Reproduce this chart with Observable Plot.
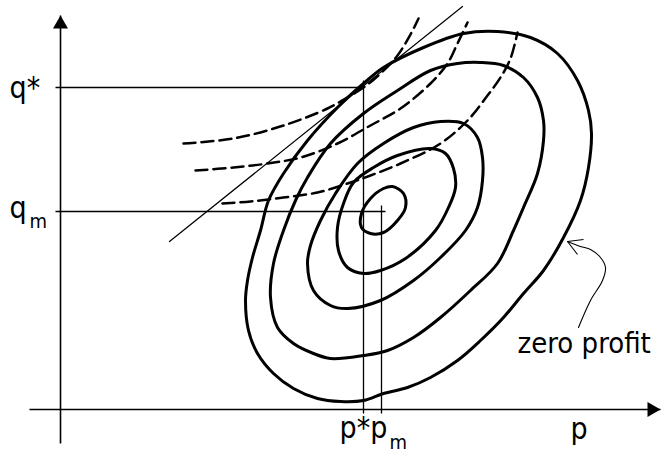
<!DOCTYPE html>
<html><head><meta charset="utf-8">
<script src="https://cdn.jsdelivr.net/npm/d3@7"></script>
<script src="https://cdn.jsdelivr.net/npm/@observablehq/plot@0.6"></script>
<style>body{margin:0;background:#fff}</style>
</head><body><div id="chart"></div>
<script>
// key values (p = price, q = quality)
const pStar = 6.06, pM = 6.42, qStar = 6.44, qM = 3.96;
const axisP = [-0.62, 12.0];
const axisQ = [-0.68, 7.88];

// iso-profit contours (innermost to zero profit)
const contour1 = [[6.64,4.46],[6.86,4.32],[6.90,4.04],[6.74,3.78],[6.46,3.54],[6.20,3.52],[6.02,3.64],[6.02,3.92],[6.20,4.22],[6.46,4.42]];
const contour2 = [[7.40,5.22],[7.70,5.12],[7.86,4.82],[7.90,4.44],[7.76,4.04],[7.50,3.58],[6.90,3.02],[6.40,2.78],[6.06,2.72],[5.74,2.84],[5.56,3.18],[5.54,3.64],[5.66,4.12],[5.86,4.54],[6.26,4.84],[6.74,5.08]];
const contour3 = [[7.60,5.76],[7.06,5.64],[6.46,5.32],[5.94,4.92],[5.50,4.32],[5.20,3.78],[5.00,3.28],[4.94,2.92],[5.06,2.38],[5.40,2.08],[5.74,2.02],[6.40,2.18],[7.06,2.58],[7.60,3.04],[8.10,3.58],[8.34,4.04],[8.44,4.58],[8.44,5.04],[8.34,5.44],[8.06,5.72]];
const contour4 = [[7.94,6.92],[7.40,6.78],[6.74,6.38],[6.06,5.92],[5.40,5.32],[4.94,4.64],[4.70,4.18],[4.46,3.58],[4.26,2.92],[4.20,2.24],[4.34,1.64],[4.66,1.32],[5.06,1.12],[5.40,1.02],[6.06,1.08],[6.54,1.18],[7.06,1.44],[7.60,1.84],[8.20,2.38],[8.74,2.92],[9.06,3.58],[9.26,4.04],[9.54,4.72],[9.66,5.38],[9.66,5.78],[9.54,6.24],[9.26,6.64],[8.86,6.88],[8.40,6.94]];
const contour5 = [[8.74,7.56],[8.06,7.52],[7.26,7.24],[6.46,6.84],[6.06,6.52],[5.54,6.04],[4.94,5.38],[4.46,4.72],[4.16,4.18],[4.00,3.58],[3.84,3.04],[3.74,2.58],[3.70,2.18],[3.76,1.58],[3.94,1.12],[4.26,0.72],[4.66,0.42],[5.14,0.22],[5.60,0.16],[6.06,0.18],[6.46,0.32],[6.94,0.44],[7.40,0.64],[7.94,0.98],[8.40,1.38],[8.86,1.84],[9.26,2.32],[9.66,2.78],[10.06,3.44],[10.40,4.18],[10.56,4.84],[10.62,5.52],[10.56,5.98],[10.34,6.58],[9.94,7.12],[9.40,7.44]];

// dashed indifference curves
const indiff1 = [[2.46,5.32],[3.46,5.42],[4.46,5.68],[5.34,6.02],[5.70,6.22],[6.06,6.44],[6.40,6.72],[6.74,7.08],[7.00,7.50],[7.16,7.82]];
const indiff2 = [[2.70,4.78],[3.46,4.84],[4.14,4.92],[4.80,5.04],[5.54,5.32],[6.20,5.68],[6.80,6.02],[7.40,6.52],[7.74,6.92],[7.94,7.32],[8.14,7.74]];
const indiff3 = [[3.24,4.12],[3.80,4.16],[4.46,4.24],[5.14,4.34],[5.80,4.54],[6.20,4.68],[6.80,4.92],[7.60,5.32],[8.14,5.78],[8.54,6.28],[8.80,6.64],[9.00,7.02],[9.14,7.54]];

// tangent line
const tangent = [[2.18,3.36],[8.04,8.06]];

// annotation arrow to zero-profit contour
const zeroArrow = [[10.36,1.64],[10.60,2.18],[10.84,2.58],[10.90,2.84],[10.80,3.04],[10.60,3.20],[10.40,3.26],[10.14,3.36]];
const zeroArrowWings = [[10.46,3.40],[10.34,3.10]];

// guide lines to axes
const guides = [
  {x1:-0.1, y1:qStar, x2:pStar, y2:qStar},
  {x1:-0.1, y1:qM, x2:6.5, y2:qM},
  {x1:pStar, y1:-0.08, x2:pStar, y2:6.58},
  {x1:pM, y1:-0.08, x2:pM, y2:4.08}
];

// labels
const mainLabels = [
  {text:"q*", p:-1.02, q:6.24},
  {text:"q", p:-1.02, q:3.84},
  {text:"p*p", p:5.58, q:-0.56},
  {text:"p", p:10.20, q:-0.58}
];
const subLabels = [
  {text:"m", p:-0.62, q:3.64},
  {text:"m", p:6.58, q:-0.78}
];
const noteLabel = [{text:"zero profit", p:9.14, q:1.14}];

const FONT = "'DejaVu Sans Condensed', 'DejaVu Sans', sans-serif";

const toRows = (arr, id) => arr.map(([p, q]) => ({p, q, id}));
const contourRows = [contour1, contour2, contour3, contour4, contour5].flatMap((c, i) => toRows(c, i));
const dashRows = [indiff1, indiff2, indiff3].flatMap((c, i) => toRows(c, i));
const tangentRows = toRows(tangent, 0);
const arrowRows = toRows(zeroArrow, 0);
const tip = zeroArrow[zeroArrow.length - 1];
const wingLinks = zeroArrowWings.map(([p, q]) => ({x1: tip[0], y1: tip[1], x2: p, y2: q}));
const axisLinks = [
  {x1: axisP[0], y1: 0, x2: axisP[1], y2: 0},
  {x1: 0, y1: axisQ[0], x2: 0, y2: axisQ[1]}
];
const arrowHeads = [
  {p: axisP[1], q: 0},
  {p: 0, q: axisQ[1]}
];

const chart = Plot.plot({
  width: 661,
  height: 453,
  margin: 0,
  style: {background: "white", fontFamily: FONT},
  x: {domain: [-1.2, 12.02], axis: null},
  y: {domain: [-0.88, 8.18], axis: null},
  marks: [
    Plot.link(axisLinks, {x1: "x1", y1: "y1", x2: "x2", y2: "y2", stroke: "black", strokeWidth: 1.6}),
    Plot.dot([arrowHeads[0]], {x: "p", y: "q", symbol: "triangle", r: 5.57, fill: "black", stroke: null, rotate: 90, dx: -8.66}),
    Plot.dot([arrowHeads[1]], {x: "p", y: "q", symbol: "triangle", r: 5.57, fill: "black", stroke: null, rotate: 0, dy: 8.66}),
    Plot.link(guides, {x1: "x1", y1: "y1", x2: "x2", y2: "y2", stroke: "black", strokeWidth: 1.3}),
    Plot.line(tangentRows, {x: "p", y: "q", stroke: "black", strokeWidth: 1.2}),
    Plot.line(dashRows, {x: "p", y: "q", z: "id", curve: "catmull-rom", stroke: "black", strokeWidth: 2.5, strokeDasharray: "12,6"}),
    Plot.line(contourRows, {x: "p", y: "q", z: "id", curve: "catmull-rom-closed", stroke: "black", strokeWidth: 3, strokeLinejoin: "round"}),
    Plot.line(arrowRows, {x: "p", y: "q", curve: "catmull-rom", stroke: "black", strokeWidth: 1.1}),
    Plot.link(wingLinks, {x1: "x1", y1: "y1", x2: "x2", y2: "y2", stroke: "black", strokeWidth: 1.1}),
    Plot.text(mainLabels, {x: "p", y: "q", text: "text", textAnchor: "start", lineAnchor: "bottom", fontSize: 30, fontFamily: FONT, fill: "black"}),
    Plot.text(subLabels, {x: "p", y: "q", text: "text", textAnchor: "start", lineAnchor: "bottom", fontSize: 20, fontFamily: FONT, fill: "black"}),
    Plot.text(noteLabel, {x: "p", y: "q", text: "text", textAnchor: "start", lineAnchor: "bottom", fontSize: 29, fontFamily: FONT, fill: "black"})
  ]
});
document.getElementById("chart").appendChild(chart);
</script></body></html>
